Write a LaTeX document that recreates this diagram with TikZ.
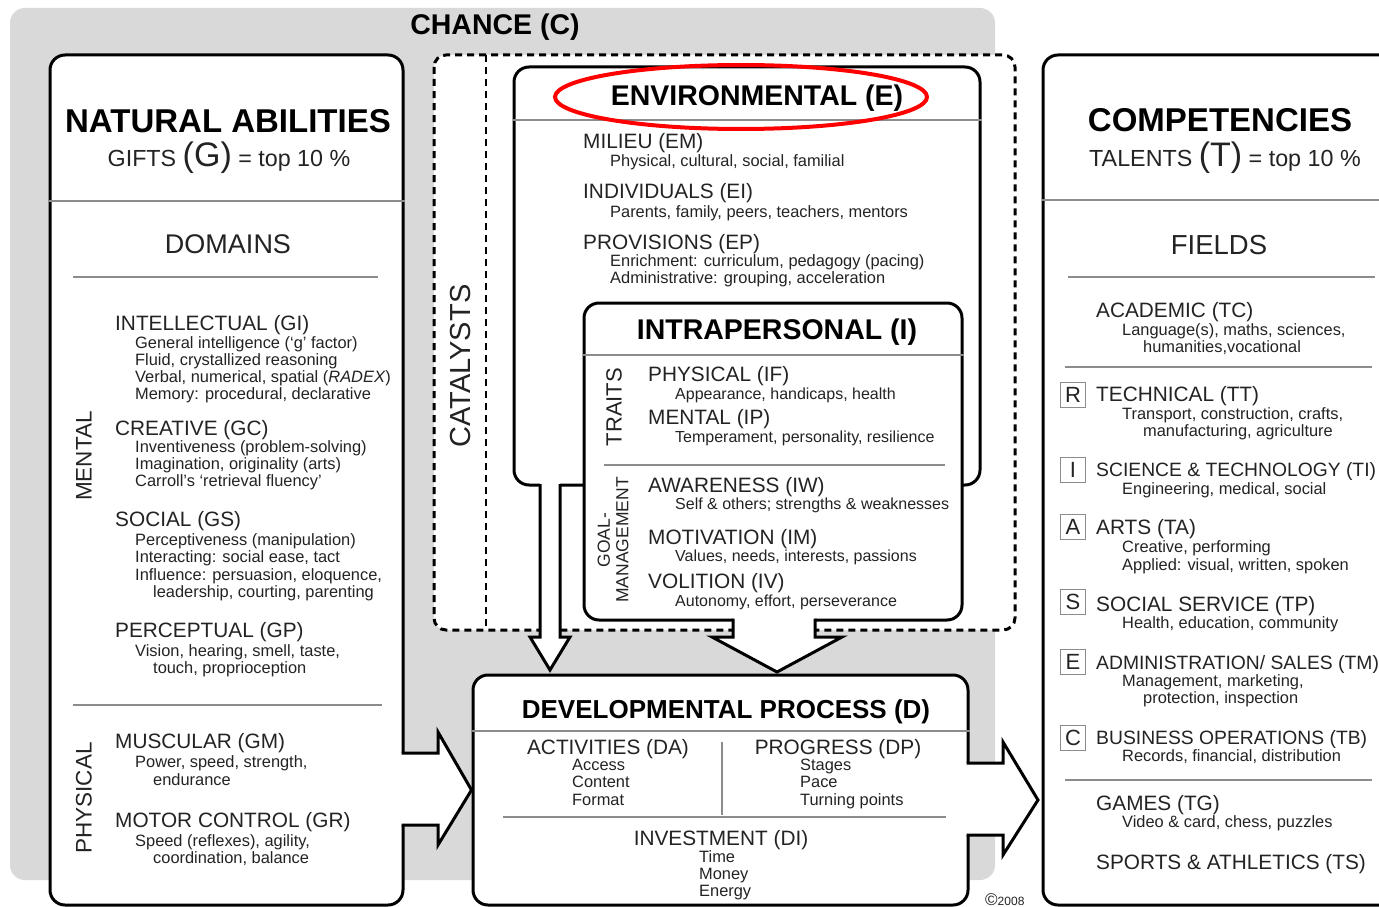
\documentclass[tikz,border=0pt]{standalone}
\usepackage{fontspec}
\setmainfont{Liberation Sans}
\usetikzlibrary{positioning}

\definecolor{chancegray}{RGB}{217,217,217}
\definecolor{txtgray}{RGB}{35,35,35}
\definecolor{rulegray}{RGB}{140,140,140}

\begin{document}
\begin{tikzpicture}[x=1pt, y=-1pt,
    box/.style={draw, line width=3pt, rounded corners=15pt, fill=white, inner sep=0pt},
    rule/.style={draw=rulegray, line width=1.5pt},
    title/.style={anchor=base, inner sep=0pt, font=\bfseries\fontsize{28.5}{32}\selectfont},
    hd/.style={anchor=base west, inner sep=0pt, text=txtgray, font=\fontsize{20.8}{24}\selectfont},
    longhd/.style={hd, font=\fontsize{19.3}{23}\selectfont},
    sub/.style={anchor=base west, inner sep=0pt, text=txtgray, font=\fontsize{16.4}{19}\selectfont},
    isub/.style={sub, font=\fontsize{16}{19}\selectfont},
    side/.style={rotate=90, inner sep=0pt, text=txtgray, font=\fontsize{22.5}{26}\selectfont},
    letter/.style={draw=rulegray, line width=1pt, minimum size=25pt, inner sep=0pt, text=txtgray, font=\fontsize{22}{24}\selectfont},
    blockline/.style={line width=3pt, line join=miter}
]
\useasboundingbox (0,0) rectangle (1379,907);
\clip (0,0) rectangle (1379,907);

% chance background and catalysts frame
\fill[chancegray, rounded corners=15pt] (10,8) rectangle (995,880);
\draw[line width=3pt, dash pattern=on 7pt off 5pt, rounded corners=12pt, fill=white] (434,55) rectangle (1015,630);
\draw[line width=2pt, dash pattern=on 7pt off 5pt] (486,55) -- (486,630);

% boxes
\node[box, minimum width=466pt, minimum height=418pt] (env) at (747,276) {};
\node[box, minimum width=378pt, minimum height=317pt] (intra) at (773,461.5) {};
\node[box, minimum width=353pt, minimum height=850pt] (gifts) at (226.5,480) {};
\node[box, minimum width=495pt, minimum height=230pt] (dev) at (720.5,790) {};
\node[box, minimum width=357pt, minimum height=850pt] (talents) at (1221.5,480) {};

% separators
\draw[rule] (gifts.west |- 0,201) -- (gifts.east |- 0,201);
\draw[rule] (73,277) -- (378,277);
\draw[rule] (73,705) -- (382,705);
\draw[rule] (talents.west |- 0,200) -- (1379,200);
\draw[rule] (1068,277) -- (1375,277);
\draw[rule] (1065,367) -- (1372,367);
\draw[rule] (1065,780) -- (1372,780);
\draw[rule] (env.west |- 0,120) -- (env.east |- 0,120);
\draw[rule] (intra.west |- 0,355) -- (intra.east |- 0,355);
\draw[rule] (604,465) -- (945,465);
\draw[rule] (dev.west |- 0,731) -- (dev.east |- 0,731);
\draw[rule] (722,742) -- (722,815);
\draw[rule] (503,817) -- (946,817);

% block arrows
\fill[white] (400,753) -- (438,753) -- (438,732) -- (dev.west) -- (438,845) -- (438,825) -- (400,825) -- cycle;
\draw[blockline] (401.5,753) -- (438,753) -- (438,732) -- (dev.west) -- (438,845) -- (438,825) -- (401.5,825);
\fill[white] (965,763) -- (1003,763) -- (1003,742) -- (1038,800) -- (1003,855) -- (1003,835) -- (965,835) -- cycle;
\draw[blockline] (966.5,763) -- (1003,763) -- (1003,742) -- (1038,800) -- (1003,855) -- (1003,835) -- (966.5,835);
\fill[white] (540,482) -- (540,637) -- (530,637) -- (550,670) -- (570,637) -- (560,637) -- (560,482) -- cycle;
\draw[blockline] (540,484) -- (540,637) -- (530,637) -- (550,670) -- (570,637) -- (560,637) -- (560,484);
\fill[white] (733,617) -- (733,637) -- (712,637) -- (777,672) -- (842,637) -- (815,637) -- (815,617) -- cycle;
\draw[blockline] (733,618.5) -- (733,637) -- (712,637) -- (777,672) -- (842,637) -- (815,637) -- (815,618.5);

% titles
\node[title] (chance) at (495,35) {CHANCE (C)};
\node[title, font=\bfseries\fontsize{33}{38}\selectfont] (natab) at (228,132) {NATURAL ABILITIES};
\node[anchor=base, inner sep=0pt, text=txtgray, font=\fontsize{23.3}{27}\selectfont] (gift) at (229,166) {GIFTS {\fontsize{34}{38}\selectfont(G)} = top 10 \%};
\node[anchor=base, inner sep=0pt, text=txtgray, font=\fontsize{27}{31}\selectfont] (domains) at (228,253) {DOMAINS};
\node[title, font=\bfseries\fontsize{33}{38}\selectfont] (comp) at (1220,131) {COMPETENCIES};
\node[anchor=base, inner sep=0pt, text=txtgray, font=\fontsize{23.3}{27}\selectfont] (talent) at (1225,166) {TALENTS {\fontsize{34}{38}\selectfont(T)} = top 10 \%};
\node[anchor=base, inner sep=0pt, text=txtgray, font=\fontsize{27.5}{31}\selectfont] (fields) at (1219,254) {FIELDS};
\node[title] (envt) at (757,106) {ENVIRONMENTAL (E)};
\node[title] (intrat) at (777,339) {INTRAPERSONAL (I)};
\node[title, font=\bfseries\fontsize{26}{30}\selectfont] (devt) at (726,718) {DEVELOPMENTAL PROCESS (D)};

% side labels
\node[side] (mental) at (84,456) {MENTAL};
\node[side] (physical) at (84,798) {PHYSICAL};
\node[side, font=\fontsize{29}{33}\selectfont] (catalysts) at (461,366) {CATALYSTS};
\node[side, font=\fontsize{22}{26}\selectfont] (traits) at (614,407) {TRAITS};
\node[side, align=center, font=\fontsize{17.5}{18.5}\selectfont] (goal) at (613,540) {GOAL-\\MANAGEMENT};

% domains
\node[hd] (gi) at (115,330) {INTELLECTUAL (GI)};
\node[sub] (gi1) at (135,348) {General intelligence (`g' factor)};
\node[sub] (gi2) at (135,365) {Fluid, crystallized reasoning};
\node[sub] (gi3) at (135,382) {Verbal, numerical, spatial (\textit{RADEX})};
\node[sub] (gi4) at (135,399) {Memory: procedural, declarative};
\node[hd] (gc) at (115,435) {CREATIVE (GC)};
\node[sub] (gc1) at (135,452) {Inventiveness (problem-solving)};
\node[sub] (gc2) at (135,469) {Imagination, originality (arts)};
\node[sub] (gc3) at (135,486) {Carroll's `retrieval fluency'};
\node[hd] (gs) at (115,526) {SOCIAL (GS)};
\node[sub] (gs1) at (135,545) {Perceptiveness (manipulation)};
\node[sub] (gs2) at (135,562) {Interacting: social ease, tact};
\node[sub] (gs3) at (135,580) {Influence: persuasion, eloquence,};
\node[sub] (gs4) at (153,597) {leadership, courting, parenting};
\node[hd] (gp) at (115,637) {PERCEPTUAL (GP)};
\node[sub] (gp1) at (135,656) {Vision, hearing, smell, taste,};
\node[sub] (gp2) at (153,673) {touch, proprioception};
\node[hd] (gm) at (115,748) {MUSCULAR (GM)};
\node[sub] (gm1) at (135,767) {Power, speed, strength,};
\node[sub] (gm2) at (153,785) {endurance};
\node[hd] (gr) at (115,827) {MOTOR CONTROL (GR)};
\node[sub] (gr1) at (135,846) {Speed (reflexes), agility,};
\node[sub] (gr2) at (153,863) {coordination, balance};

% environmental
\node[hd] (em) at (583,148) {MILIEU (EM)};
\node[sub] (em1) at (610,166) {Physical, cultural, social, familial};
\node[hd] (ei) at (583,198) {INDIVIDUALS (EI)};
\node[sub] (ei1) at (610,217) {Parents, family, peers, teachers, mentors};
\node[hd] (ep) at (583,249) {PROVISIONS (EP)};
\node[sub] (ep1) at (610,266) {Enrichment: curriculum, pedagogy (pacing)};
\node[sub] (ep2) at (610,283) {Administrative: grouping, acceleration};

% intrapersonal
\node[hd] (if) at (648,381) {PHYSICAL (IF)};
\node[isub] (if1) at (675,399) {Appearance, handicaps, health};
\node[hd] (ip) at (648,424) {MENTAL (IP)};
\node[isub] (ip1) at (675,442) {Temperament, personality, resilience};
\node[hd] (iw) at (648,492) {AWARENESS (IW)};
\node[isub] (iw1) at (675,509) {Self \& others; strengths \& weaknesses};
\node[hd] (im) at (648,544) {MOTIVATION (IM)};
\node[isub] (im1) at (675,561) {Values, needs, interests, passions};
\node[hd] (iv) at (648,588) {VOLITION (IV)};
\node[isub] (iv1) at (675,606) {Autonomy, effort, perseverance};

% developmental process
\node[hd, anchor=base] (da) at (608,754) {ACTIVITIES (DA)};
\node[sub] (da1) at (572,770) {Access};
\node[sub] (da2) at (572,787) {Content};
\node[sub] (da3) at (572,805) {Format};
\node[hd, anchor=base] (dp) at (838,754) {PROGRESS (DP)};
\node[sub] (dp1) at (800,770) {Stages};
\node[sub] (dp2) at (800,787) {Pace};
\node[sub] (dp3) at (800,805) {Turning points};
\node[hd, anchor=base] (di) at (721,845) {INVESTMENT (DI)};
\node[sub] (di1) at (699,862) {Time};
\node[sub] (di2) at (699,879) {Money};
\node[sub] (di3) at (699,896) {Energy};
\node[anchor=base west, inner sep=0pt, text=txtgray] (year) at (985,905) {{\fontsize{17}{17}\selectfont\copyright}{\fontsize{12}{12}\selectfont 2008}};

% fields
\node[hd] (tc) at (1096,317) {ACADEMIC (TC)};
\node[sub] (tc1) at (1122,335) {Language(s), maths, sciences,};
\node[sub] (tc2) at (1143,352) {humanities,vocational};
\node[letter] (lr) at (1073,395) {R};
\node[hd] (tt) at (1096,401) {TECHNICAL (TT)};
\node[sub] (tt1) at (1122,419) {Transport, construction, crafts,};
\node[sub] (tt2) at (1143,436) {manufacturing, agriculture};
\node[letter] (li) at (1073,470) {I};
\node[longhd] (ti) at (1096,476) {SCIENCE \& TECHNOLOGY (TI)};
\node[sub] (ti1) at (1122,494) {Engineering, medical, social};
\node[letter] (la) at (1073,527) {A};
\node[hd] (ta) at (1096,534) {ARTS (TA)};
\node[sub] (ta1) at (1122,552) {Creative, performing};
\node[sub] (ta2) at (1122,570) {Applied: visual, written, spoken};
\node[letter] (ls) at (1073,602) {S};
\node[hd] (tp) at (1096,611) {SOCIAL SERVICE (TP)};
\node[sub] (tp1) at (1122,628) {Health, education, community};
\node[letter] (le) at (1073,662) {E};
\node[longhd] (tm) at (1096,669) {ADMINISTRATION/ SALES (TM)};
\node[sub] (tm1) at (1122,686) {Management, marketing,};
\node[sub] (tm2) at (1143,703) {protection, inspection};
\node[letter] (lc) at (1073,738) {C};
\node[longhd] (tb) at (1096,744) {BUSINESS OPERATIONS (TB)};
\node[sub] (tb1) at (1122,761) {Records, financial, distribution};
\node[hd] (tg) at (1096,810) {GAMES (TG)};
\node[sub] (tg1) at (1122,827) {Video \& card, chess, puzzles};
\node[hd] (ts) at (1096,869) {SPORTS \& ATHLETICS (TS)};

% highlight
\draw[red, line width=4pt] (741,97) ellipse [x radius=186pt, y radius=32pt];
\end{tikzpicture}
\end{document}
